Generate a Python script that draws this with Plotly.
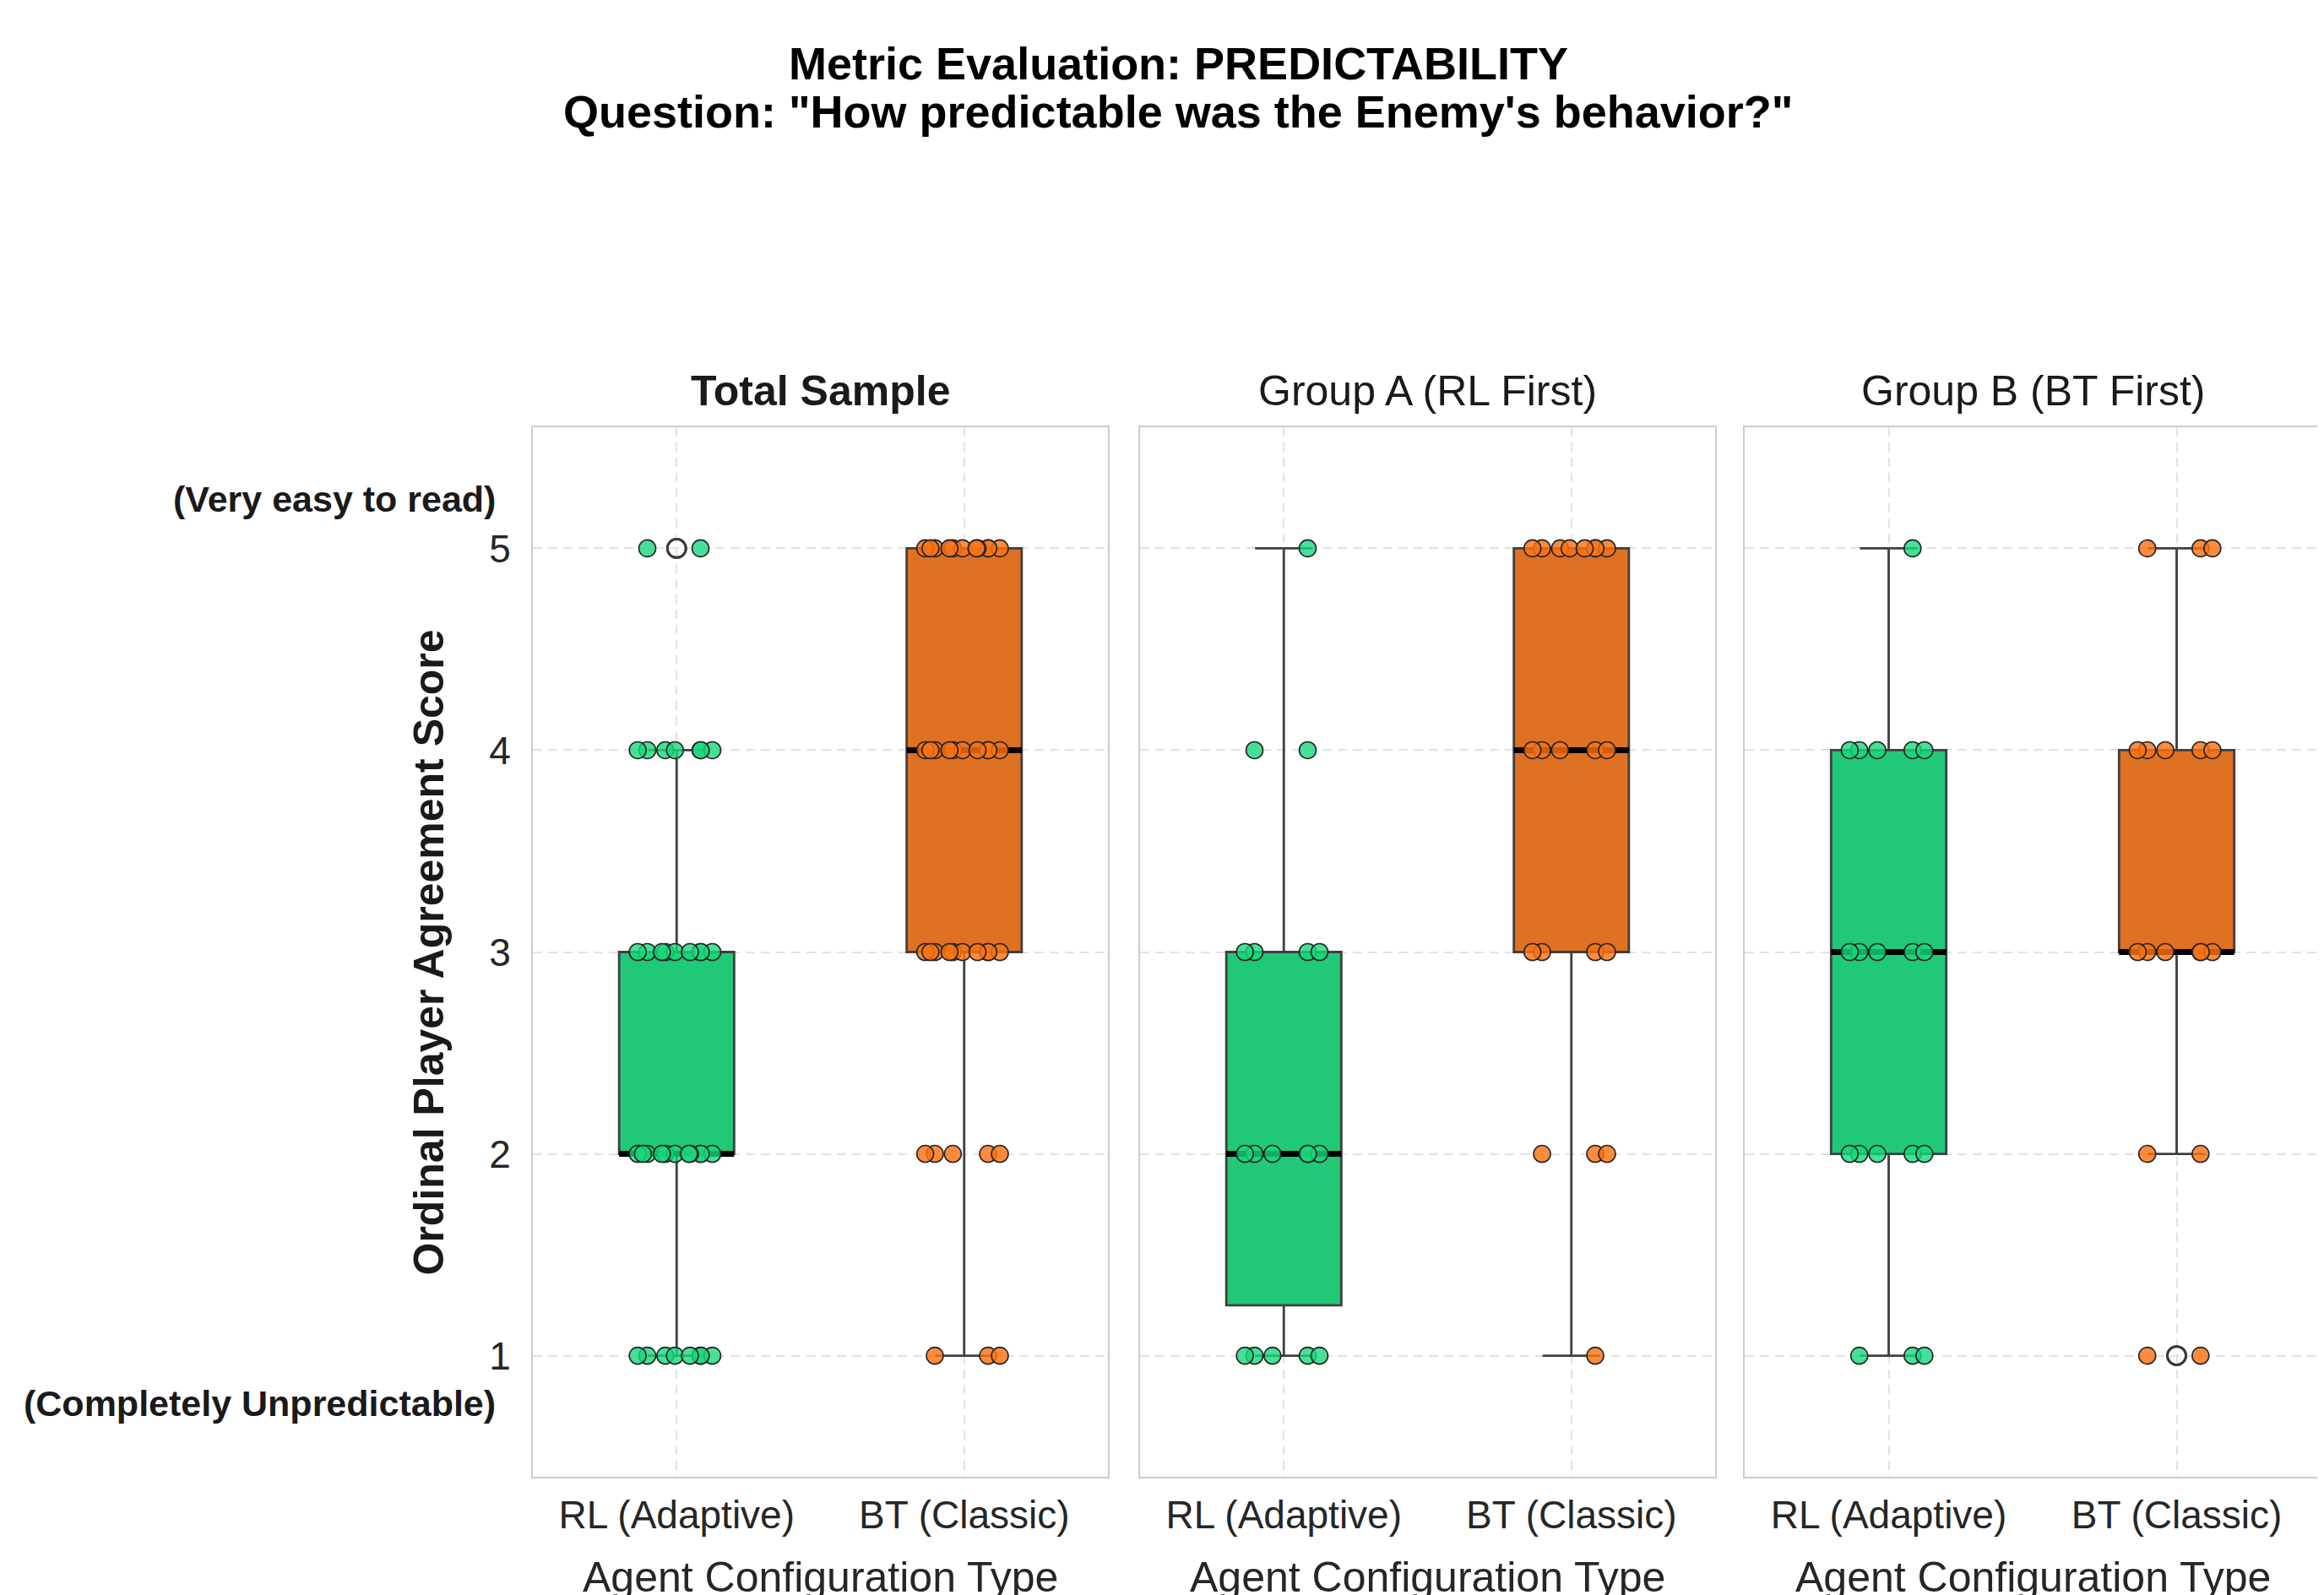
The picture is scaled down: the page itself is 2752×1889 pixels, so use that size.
import numpy as np
import plotly.graph_objects as go

# ---------------- data ----------------
categories = ["RL (Adaptive)", "BT (Classic)"]
panel_titles = ["Total Sample", "Group A (RL First)", "Group B (BT First)"]
y_ticks = [1, 2, 3, 4, 5]
y_top_label = "(Very easy to read)"
y_bottom_label = "(Completely Unpredictable)"
x_title = "Agent Configuration Type"
y_title = "Ordinal Player Agreement Score"
title_line1 = "Metric Evaluation: PREDICTABILITY"
title_line2 = 'Question: "How predictable was the Enemy\'s behavior?"'

group_a_rl = [1, 1, 1, 1, 1, 2, 2, 2, 2, 2, 2, 3, 3, 3, 3, 4, 4, 5]
group_a_bt = [1, 2, 2, 2, 3, 3, 3, 3, 4, 4, 4, 4, 4, 5, 5, 5, 5, 5, 5, 5, 5]
group_b_rl = [1, 1, 1, 2, 2, 2, 2, 2, 3, 3, 3, 3, 3, 4, 4, 4, 4, 4, 5]
group_b_bt = [1, 1, 2, 2, 3, 3, 3, 3, 3, 3, 4, 4, 4, 4, 4, 5, 5, 5]

total_rl = group_a_rl + group_b_rl
total_bt = group_a_bt + group_b_bt

panels = [
    {"RL (Adaptive)": total_rl, "BT (Classic)": total_bt},
    {"RL (Adaptive)": group_a_rl, "BT (Classic)": group_a_bt},
    {"RL (Adaptive)": group_b_rl, "BT (Classic)": group_b_bt},
]

# ---------------- styles ----------------
W, H = 2752, 1889
OFF = 8  # page body margin shifts the figure by 8px
box_fill = {"RL (Adaptive)": "#20c878", "BT (Classic)": "#de7122"}
pt_fill = {"RL (Adaptive)": "rgba(24,216,124,0.80)", "BT (Classic)": "rgba(250,115,20,0.82)"}
edge = "#3f3f3f"
FONT = "Liberation Sans, Arial, sans-serif"


def px(v):
    return (v - OFF) / W


def py(v):
    return 1 - (v - OFF) / H


x_domains = [(px(631), px(1312)), (px(1350), px(2031)), (px(2066), px(2748))]
y_domain = (py(1749), py(506))


def box_stats(values):
    a = np.asarray(values, dtype=float)
    q1, med, q3 = np.percentile(a, [25, 50, 75])
    iqr = q3 - q1
    lo = a[a >= q1 - 1.5 * iqr].min()
    hi = a[a <= q3 + 1.5 * iqr].max()
    out = a[(a < lo) | (a > hi)]
    return q1, med, q3, lo, hi, out


fig = go.Figure()

for i, panel in enumerate(panels):
    xa = "x" if i == 0 else f"x{i+1}"
    ya = "y" if i == 0 else f"y{i+1}"
    for cat in categories:
        vals = panel[cat]
        q1, med, q3, lo, hi, out = box_stats(vals)
        # box + whiskers
        fig.add_trace(go.Box(
            x=[cat], q1=[q1], median=[med], q3=[q3], lowerfence=[lo], upperfence=[hi],
            fillcolor=box_fill[cat], line=dict(color=edge, width=2.8),
            width=0.4, whiskerwidth=0.5, boxpoints=False,
            xaxis=xa, yaxis=ya, showlegend=False, hoverinfo="skip"))
        # thick black median
        fig.add_trace(go.Box(
            x=[cat], q1=[med], median=[med], q3=[med], lowerfence=[med], upperfence=[med],
            fillcolor="rgba(0,0,0,0)", line=dict(color="black", width=7),
            width=0.4, whiskerwidth=0, boxpoints=False,
            xaxis=xa, yaxis=ya, showlegend=False, hoverinfo="skip"))
        # jittered raw responses (one trace per response level -> even jitter)
        arr = np.asarray(vals)
        for lvl in sorted(set(vals)):
            sub = arr[arr == lvl].tolist()
            fig.add_trace(go.Box(
                x=[cat] * len(sub), y=sub, boxpoints="all", jitter=0.8, pointpos=0,
                fillcolor="rgba(0,0,0,0)", line=dict(color="rgba(0,0,0,0)", width=0),
                width=0.4, whiskerwidth=0,
                marker=dict(size=20, color=pt_fill[cat], line=dict(color="#262626", width=1.6)),
                xaxis=xa, yaxis=ya, showlegend=False, hoverinfo="skip"))
        # outliers (fliers)
        if len(out):
            fig.add_trace(go.Scatter(
                x=[cat] * len(out), y=out.tolist(), mode="markers",
                marker=dict(symbol="circle-open", size=22, color="#3a3a3a", line=dict(width=2.8)),
                xaxis=xa, yaxis=ya, showlegend=False, hoverinfo="skip"))

axis_common = dict(
    showgrid=True, gridcolor="#e2e2e2", gridwidth=2, griddash="11px,7px",
    showline=True, mirror=True, linecolor="#cccccc", linewidth=2,
    zeroline=False, ticks="", tickfont=dict(size=46, color="#262626", family=FONT),
)

layout = dict(
    width=W, height=H, margin=dict(l=0, r=0, t=0, b=0),
    paper_bgcolor="white", plot_bgcolor="white",
    font=dict(family=FONT, color="#262626"),
    boxmode="overlay", showlegend=False,
)

for i in range(3):
    xk = "xaxis" if i == 0 else f"xaxis{i+1}"
    yk = "yaxis" if i == 0 else f"yaxis{i+1}"
    layout[xk] = dict(axis_common, domain=list(x_domains[i]), type="category",
                      categoryorder="array", categoryarray=categories,
                      range=[-0.5, 1.5], anchor="y" if i == 0 else f"y{i+1}",
                      ticklabelstandoff=4)
    layout[yk] = dict(axis_common, domain=list(y_domain), range=[0.4, 5.6],
                      tickmode="array", tickvals=y_ticks, ticktext=[str(t) for t in y_ticks],
                      showticklabels=(i == 0), anchor="x" if i == 0 else f"x{i+1}",
                      ticklabelstandoff=15)

fig.update_layout(**layout)

ann = []
ann.append(dict(text=f"<b>{title_line1}</b>", x=px(1395), y=py(75), xref="paper", yref="paper",
                xanchor="center", yanchor="middle", showarrow=False,
                font=dict(size=54, color="#000000", family=FONT)))
ann.append(dict(text=f"<b>{title_line2}</b>", x=px(1395), y=py(132), xref="paper", yref="paper",
                xanchor="center", yanchor="middle", showarrow=False,
                font=dict(size=54, color="#000000", family=FONT)))
for i, t in enumerate(panel_titles):
    cx = (x_domains[i][0] + x_domains[i][1]) / 2
    txt = f"<b>{t}</b>" if i == 0 else t
    ann.append(dict(text=txt, x=cx, y=py(463), xref="paper", yref="paper",
                    xanchor="center", yanchor="middle", showarrow=False,
                    font=dict(size=50, color="#1a1a1a", family=FONT)))
    ann.append(dict(text=x_title, x=cx, y=py(1868), xref="paper", yref="paper",
                    xanchor="center", yanchor="middle", showarrow=False,
                    font=dict(size=50, color="#262626", family=FONT)))
ann.append(dict(text=f"<b>{y_top_label}</b>", x=px(589), y=5.243, xref="paper", yref="y",
                xanchor="right", yanchor="middle", showarrow=False,
                font=dict(size=43, color="#1a1a1a", family=FONT)))
ann.append(dict(text=f"<b>{y_bottom_label}</b>", x=px(589), y=0.766, xref="paper", yref="y",
                xanchor="right", yanchor="middle", showarrow=False,
                font=dict(size=43, color="#1a1a1a", family=FONT)))
ann.append(dict(text=f"<b>{y_title}</b>", x=px(507), y=(y_domain[0] + y_domain[1]) / 2,
                xref="paper", yref="paper", xanchor="center", yanchor="middle",
                textangle=-90, showarrow=False,
                font=dict(size=50, color="#1a1a1a", family=FONT)))
fig.update_layout(annotations=ann)

fig.write_html("out.html")
